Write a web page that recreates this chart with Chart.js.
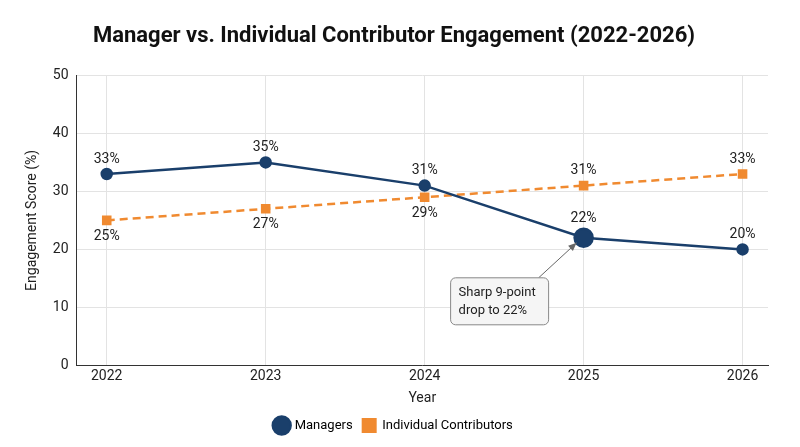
<!DOCTYPE html>
<html>
<head>
<meta charset="utf-8">
<script src="https://cdn.jsdelivr.net/npm/chart.js@4"></script>
<style>
  html, body { margin: 0; padding: 0; background: #fff; }
  #wrap { width: 800px; height: 447px; }
</style>
</head>
<body>
<div id="wrap"><canvas id="c"></canvas></div>
<script>
const years = [2022, 2023, 2024, 2025, 2026];
const managers = [33, 35, 31, 22, 20];
const contributors = [25, 27, 29, 31, 33];
const yTicks = [0, 10, 20, 30, 40, 50];

// label placement: managers above; contributors below except last two
const icBelow = [true, true, true, false, false];

const labelPlugin = {
  id: 'labels',
  afterDatasetsDraw(chart) {
    const ctx = chart.ctx;
    ctx.save();
    ctx.font = '14px Roboto';
    ctx.fillStyle = '#222';
    ctx.textAlign = 'center';
    chart.getDatasetMeta(0).data.forEach((p, i) => {
      ctx.textBaseline = 'bottom';
      ctx.fillText(managers[i] + '%', p.x, p.y - (i === 3 ? 12 : 8));
    });
    chart.getDatasetMeta(1).data.forEach((p, i) => {
      if (icBelow[i]) { ctx.textBaseline = 'top'; ctx.fillText(contributors[i] + '%', p.x, p.y + 9); }
      else { ctx.textBaseline = 'bottom'; ctx.fillText(contributors[i] + '%', p.x, p.y - 8); }
    });

    // annotation
    const pt = chart.getDatasetMeta(0).data[3];
    const bx = pt.x - 133, by = pt.y + 40, bw = 98, bh = 47;
    ctx.strokeStyle = '#666';
    ctx.fillStyle = '#666';
    ctx.lineWidth = 1;
    const sx = bx + bw - 10, sy = by;
    const ex = pt.x - 7, ey = pt.y + 5;
    ctx.beginPath(); ctx.moveTo(sx, sy); ctx.lineTo(ex, ey); ctx.stroke();
    const a = Math.atan2(ey - sy, ex - sx);
    ctx.beginPath();
    ctx.moveTo(ex, ey);
    ctx.lineTo(ex - 9 * Math.cos(a - 0.4), ey - 9 * Math.sin(a - 0.4));
    ctx.lineTo(ex - 9 * Math.cos(a + 0.4), ey - 9 * Math.sin(a + 0.4));
    ctx.closePath(); ctx.fill();
    ctx.fillStyle = '#f5f5f5';
    ctx.strokeStyle = '#888';
    ctx.beginPath(); ctx.roundRect(bx, by, bw, bh, 5); ctx.fill(); ctx.stroke();
    ctx.fillStyle = '#222';
    ctx.font = '13px Roboto';
    ctx.textAlign = 'left';
    ctx.textBaseline = 'middle';
    ctx.fillText('Sharp 9-point', bx + 8, by + 15);
    ctx.fillText('drop to 22%', bx + 8, by + 33);
    ctx.restore();
  }
};

new Chart(document.getElementById('c'), {
  type: 'line',
  data: {
    datasets: [
      {
        label: 'Managers',
        data: years.map((y, i) => ({ x: y, y: managers[i] })),
        borderColor: '#1a3f6b',
        backgroundColor: '#1a3f6b',
        borderWidth: 2.5,
        pointStyle: 'circle',
        pointRadius: [5, 5, 5, 9, 5],
        pointHoverRadius: [5, 5, 5, 9, 5],
        tension: 0
      },
      {
        label: 'Individual Contributors',
        data: years.map((y, i) => ({ x: y, y: contributors[i] })),
        borderColor: '#f08a30',
        backgroundColor: '#f08a30',
        borderWidth: 2.5,
        borderDash: [8, 5],
        pointStyle: 'rect',
        pointRadius: 5,
        tension: 0
      }
    ]
  },
  options: {
    responsive: true,
    maintainAspectRatio: false,
    animation: false,
    layout: { padding: { left: 20, right: 32, top: 5, bottom: 5 } },
    plugins: {
      title: {
        display: true,
        text: 'Manager vs. Individual Contributor Engagement (2022-2026)',
        font: { family: 'Roboto', size: 22, weight: 'bold' },
        color: '#111',
        padding: { top: 18, bottom: 26 }
      },
      legend: {
        position: 'bottom',
        labels: {
          usePointStyle: true,
          font: { family: 'Roboto', size: 13 },
          color: '#222',
          generateLabels(chart) {
            return chart.data.datasets.map((d, i) => ({
              text: d.label, fillStyle: d.backgroundColor, strokeStyle: d.borderColor,
              lineWidth: 2, pointStyle: d.pointStyle, datasetIndex: i
            }));
          }
        }
      },
      tooltip: { enabled: false }
    },
    scales: {
      x: {
        type: 'linear',
        min: 2021.81, max: 2026.16,
        afterBuildTicks(s) { s.ticks = years.map(v => ({ value: v })); },
        title: { display: true, text: 'Year', font: { family: 'Roboto', size: 14 }, color: '#222', padding: 2 },
        ticks: { font: { family: 'Roboto', size: 14 }, color: '#222', callback: v => String(v) },
        grid: { color: '#e3e3e3', drawTicks: false },
        border: { color: '#333' }
      },
      y: {
        min: 0, max: 50,
        afterBuildTicks(s) { s.ticks = yTicks.map(v => ({ value: v })); },
        title: { display: true, text: 'Engagement Score (%)', font: { family: 'Roboto', size: 14 }, color: '#222' },
        ticks: { font: { family: 'Roboto', size: 14 }, color: '#222', padding: 8 },
        grid: { color: '#e3e3e3', drawTicks: false },
        border: { color: '#333' }
      }
    }
  },
  plugins: [labelPlugin]
});
</script>
</body>
</html>
